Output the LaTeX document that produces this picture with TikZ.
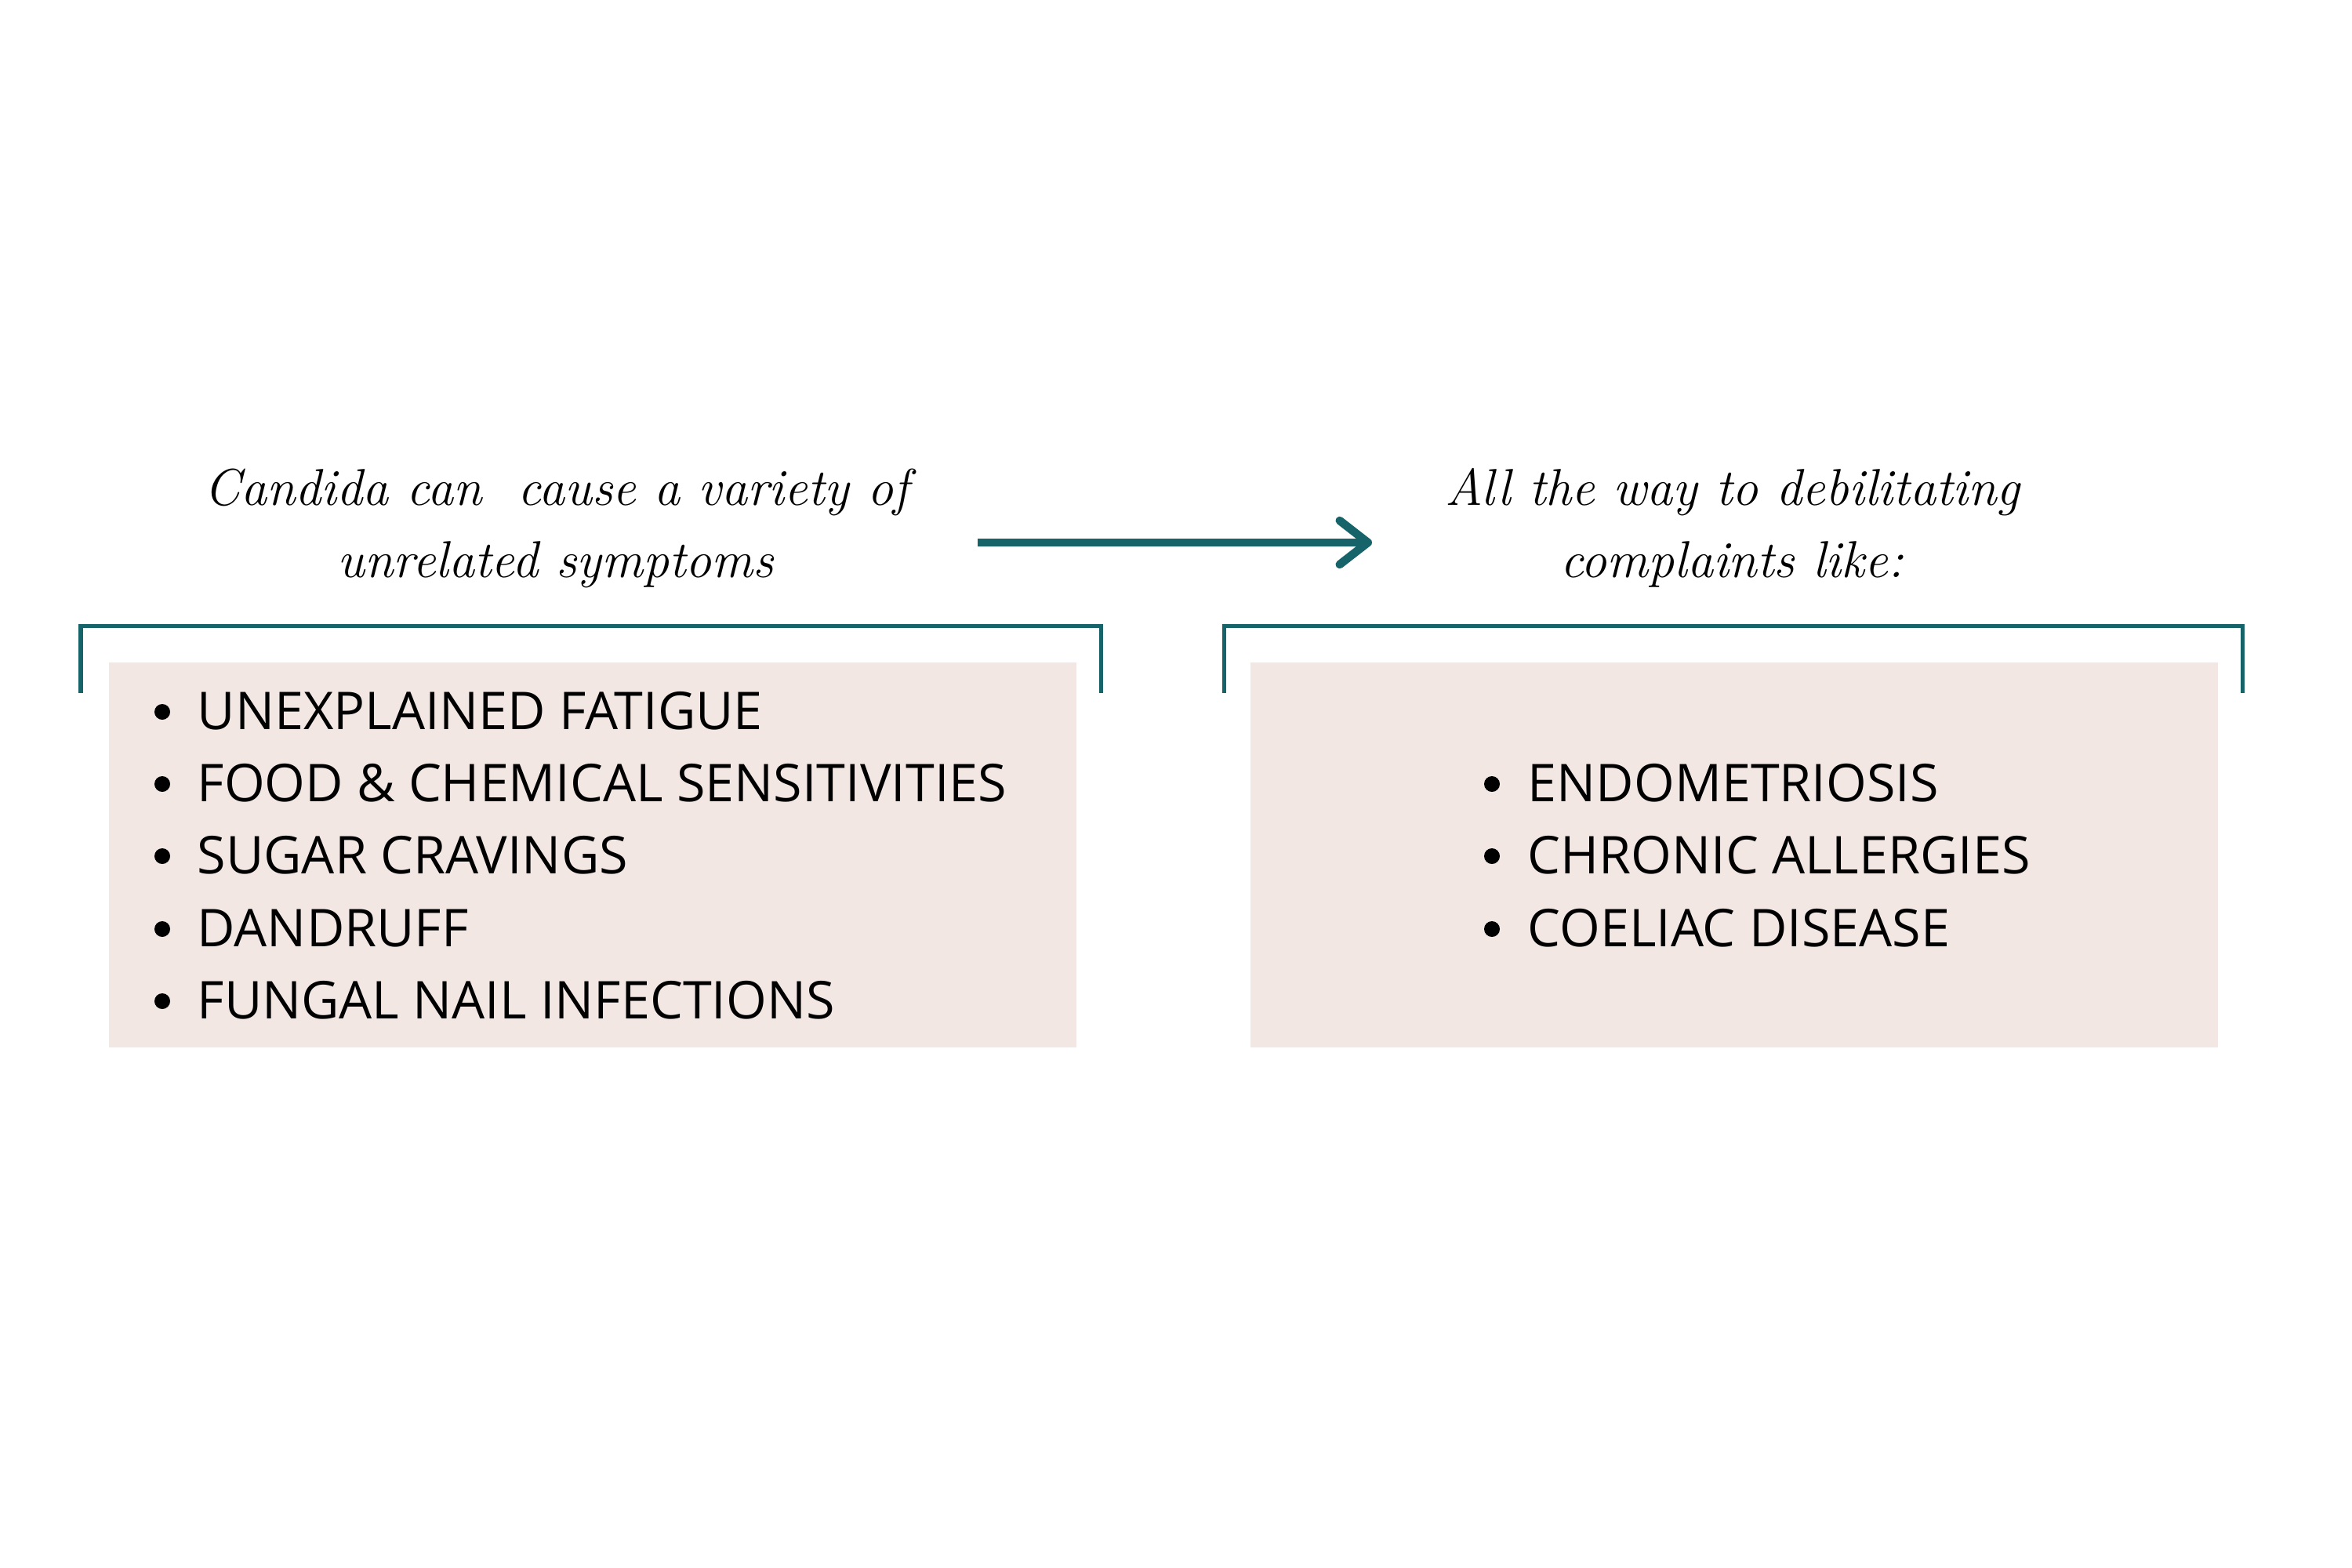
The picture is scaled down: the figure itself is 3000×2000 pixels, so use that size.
\documentclass[tikz,border=0pt]{standalone}
\usepackage{fontspec}
\newfontfamily\listfont{Open Sans}
\usetikzlibrary{arrows.meta}
\definecolor{tealline}{HTML}{17636A}
\definecolor{boxfill}{HTML}{F2E7E3}
\begin{document}
\begin{tikzpicture}[x=0.01cm,y=-0.01cm,
  bracketline/.style={draw=tealline,line width=0.05cm},
  listbox/.style={fill=boxfill,draw=none,inner sep=0pt,anchor=north west,minimum width=12.34cm,minimum height=4.91cm},
  titletext/.style={font=\itshape\fontsize{18.8}{23}\selectfont,inner sep=0pt,anchor=base},
  itemtext/.style={font=\listfont\fontsize{18.9}{22}\selectfont,inner sep=0pt,anchor=base west},
  bulletdot/.style={circle,fill=black,draw=none,inner sep=0pt,minimum size=0.2cm},
  flowarrow/.style={draw=tealline,line width=0.105cm,-{Straight Barb[length=0.36cm,width=0.56cm,round]}}]
\useasboundingbox (0,0) rectangle (3000,2000);
\fill[white] (0,0) rectangle (3000,2000);
% titles
\node[titletext] (lt1) at (710,644) {Candida can\ \ cause a variety of};
\node[titletext] (lt2) at (709,736) {unrelated symptoms};
\node[titletext] (rt1) at (2210,644) {All the way to debilitating};
\node[titletext] (rt2) at (2209,736) {complaints like:};
% arrow
\coordinate (arrS) at (1247,692);
\coordinate (arrE) at (1750,692);
\draw[flowarrow] (arrS) -- (arrE);
% brackets
\draw[bracketline] (103,884) -- (103,798) -- (1404,798) -- (1404,884);
\draw[bracketline] (1561,884) -- (1561,798) -- (2860,798) -- (2860,884);
% boxes
\node[listbox] (lbox) at (138,844) {};
\node[listbox] (rbox) at (1594,844) {};
% left list
\node[bulletdot] (lb1) at (207,908) {};
\node[bulletdot] (lb2) at (207,1000) {};
\node[bulletdot] (lb3) at (207,1092) {};
\node[bulletdot] (lb4) at (207,1185) {};
\node[bulletdot] (lb5) at (207,1277) {};
\node[itemtext] (li1) at (251,930) {UNEXPLAINED FATIGUE};
\node[itemtext] (li2) at (251,1022) {FOOD \& CHEMICAL SENSITIVITIES};
\node[itemtext] (li3) at (251,1114) {SUGAR CRAVINGS};
\node[itemtext] (li4) at (251,1207) {DANDRUFF};
\node[itemtext] (li5) at (251,1299) {FUNGAL NAIL INFECTIONS};
% right list
\node[bulletdot] (rb1) at (1903,1000) {};
\node[bulletdot] (rb2) at (1903,1092) {};
\node[bulletdot] (rb3) at (1903,1185) {};
\node[itemtext] (ri1) at (1948,1022) {ENDOMETRIOSIS};
\node[itemtext] (ri2) at (1948,1114) {CHRONIC ALLERGIES};
\node[itemtext] (ri3) at (1948,1207) {COELIAC DISEASE};
\end{tikzpicture}
\end{document}
